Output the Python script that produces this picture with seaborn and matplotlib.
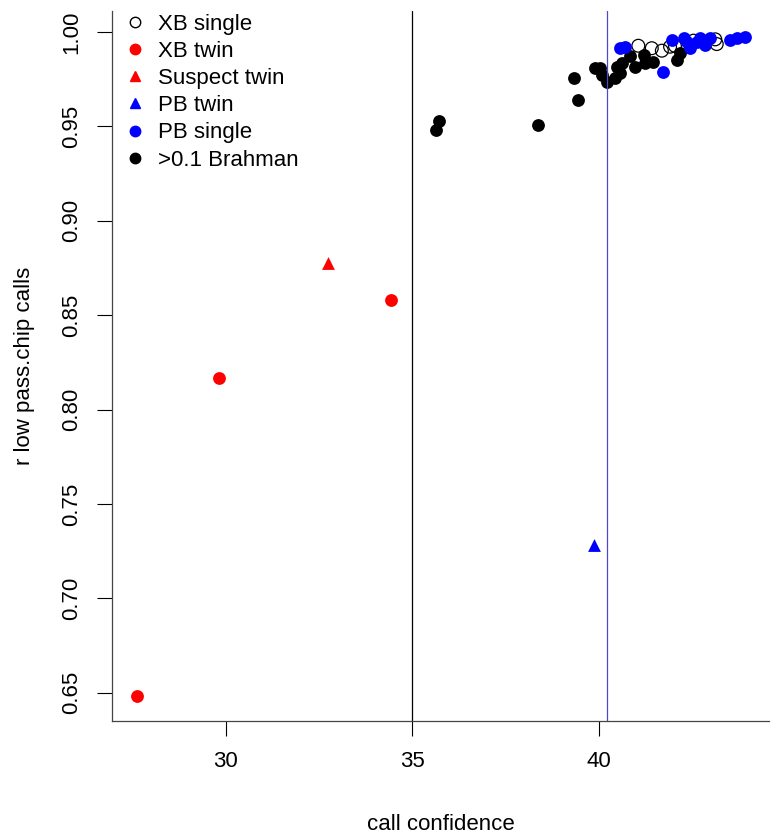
import numpy as np
import pandas as pd
import matplotlib
matplotlib.use('Agg')
import matplotlib.pyplot as plt
from matplotlib.lines import Line2D
import seaborn as sns

# ---- data ----
xb_single_x = [41.05, 41.41, 41.68, 41.90, 42.03, 42.53, 43.11, 43.15]
xb_single_y = [0.9927, 0.9914, 0.9901, 0.9922, 0.9926, 0.9954, 0.9961, 0.9936]

xb_twin_x = [27.62, 29.82, 34.43]
xb_twin_y = [0.6485, 0.8167, 0.8580]

suspect_twin_x = [32.74]
suspect_twin_y = [0.8777]

pb_twin_x = [39.86]
pb_twin_y = [0.7283]

pb_single_x = [40.56, 40.70, 41.72, 41.95, 42.26, 42.35, 42.44, 42.62,
               42.71, 42.84, 42.97, 43.51, 43.69, 43.91]
pb_single_y = [0.9914, 0.9919, 0.9790, 0.9958, 0.9967, 0.9949, 0.9914, 0.9949,
               0.9967, 0.9931, 0.9967, 0.9958, 0.9967, 0.9972]

brahman_x = [35.70, 35.63, 38.35, 39.33, 39.43, 39.89, 40.02, 40.07, 40.21, 40.43,
             40.47, 40.61, 40.56, 40.83, 40.96, 41.19, 41.23, 41.45, 42.08, 42.17]
brahman_y = [0.9529, 0.9481, 0.9506, 0.9758, 0.9640, 0.9811, 0.9808, 0.9772, 0.9737, 0.9755,
             0.9816, 0.9834, 0.9781, 0.9873, 0.9816, 0.9878, 0.9834, 0.9843, 0.9852, 0.9887]

vline_black = 35.0
vline_blue = 40.2

labels = ['XB single', 'XB twin', 'Suspect twin', 'PB twin', 'PB single', '>0.1 Brahman']

sns.set_style('white')
plt.rcParams['font.family'] = ['Liberation Sans', 'DejaVu Sans']
plt.rcParams['text.color'] = 'black'
plt.rcParams['axes.labelcolor'] = 'black'
plt.rcParams['xtick.color'] = 'black'
plt.rcParams['ytick.color'] = 'black'

fig = plt.figure(figsize=(7.76, 8.35), dpi=100)
ax = fig.add_axes([0.1447, 0.1362, 0.8463, 0.8506])

ms = 85
sns.scatterplot(x=brahman_x, y=brahman_y, color='black', s=ms, linewidth=0, ax=ax)
sns.scatterplot(x=xb_single_x, y=xb_single_y, facecolor='none', edgecolor='black',
                s=ms, linewidth=0.9, ax=ax)
sns.scatterplot(x=pb_single_x, y=pb_single_y, color='blue', s=ms, linewidth=0, ax=ax)
sns.scatterplot(x=xb_twin_x, y=xb_twin_y, color='red', s=ms, linewidth=0, ax=ax)
sns.scatterplot(x=suspect_twin_x, y=suspect_twin_y, color='red', marker='^', s=ms, linewidth=0, ax=ax)
sns.scatterplot(x=pb_twin_x, y=pb_twin_y, color='blue', marker='^', s=ms, linewidth=0, ax=ax)

ax.axvline(vline_black, color='black', lw=0.9)
ax.axvline(vline_blue, color='#4a4ac8', lw=0.9)

ax.set_xlim(26.96, 44.55)
ax.set_ylim(0.6349, 1.0111)
ax.set_xticks([30, 35, 40])
ax.set_yticks([0.65, 0.70, 0.75, 0.80, 0.85, 0.90, 0.95, 1.00])
ax.set_yticklabels(['0.65', '0.70', '0.75', '0.80', '0.85', '0.90', '0.95', '1.00'],
                   rotation=90, va='center')
ax.tick_params(axis='both', which='both', direction='out', length=10.5, width=0.8,
               color='black', labelsize=16, pad=11, left=True, bottom=True)

for side in ['top', 'right']:
    ax.spines[side].set_visible(False)
for side in ['left', 'bottom']:
    ax.spines[side].set_color('#444444')
    ax.spines[side].set_linewidth(0.9)

ax.set_xlabel('call confidence', fontsize=16, labelpad=30)
ax.set_ylabel('r low pass.chip calls', fontsize=16, labelpad=19)

handles = [
    Line2D([], [], ls='none', marker='o', markerfacecolor='none', markeredgecolor='black', markersize=7.5),
    Line2D([], [], ls='none', marker='o', color='red', markersize=7.5),
    Line2D([], [], ls='none', marker='^', color='red', markersize=7.5),
    Line2D([], [], ls='none', marker='^', color='blue', markersize=7.5),
    Line2D([], [], ls='none', marker='o', color='blue', markersize=7.5),
    Line2D([], [], ls='none', marker='o', color='black', markersize=7.5),
]
ax.legend(handles, labels, loc='upper left', frameon=False, fontsize=16,
          handletextpad=0.55, labelspacing=0.28, borderaxespad=0.1,
          handlelength=1.0, bbox_to_anchor=(0.0, 1.012))

fig.savefig('out.png', dpi=100)
